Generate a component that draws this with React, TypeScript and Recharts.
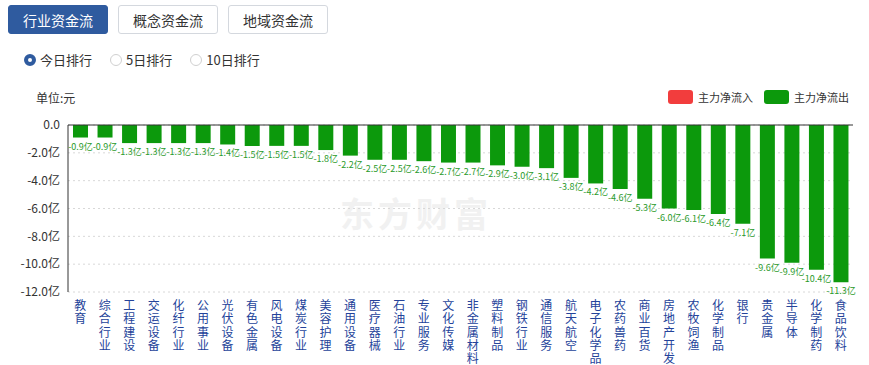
import { BarChart, Bar, XAxis, YAxis, CartesianGrid, ReferenceLine, LabelList } from 'recharts'

const categories = ['教育', '综合行业', '工程建设', '交运设备', '化纤行业', '公用事业', '光伏设备', '有色金属', '风电设备', '煤炭行业', '美容护理', '通用设备', '医疗器械', '石油行业', '专业服务', '文化传媒', '非金属材料', '塑料制品', '钢铁行业', '通信服务', '航天航空', '电子化学品', '农药兽药', '商业百货', '房地产开发', '农牧饲渔', '化学制品', '银行', '贵金属', '半导体', '化学制药', '食品饮料']
const netFlow = [-0.9, -0.9, -1.3, -1.3, -1.3, -1.3, -1.4, -1.5, -1.5, -1.5, -1.8, -2.2, -2.5, -2.5, -2.6, -2.7, -2.7, -2.9, -3.0, -3.1, -3.8, -4.2, -4.6, -5.3, -6.0, -6.1, -6.4, -7.1, -9.6, -9.9, -10.4, -11.3]
const yTicks = [0, -2, -4, -6, -8, -10, -12]
const tabs = ['行业资金流', '概念资金流', '地域资金流']
const ranks = ['今日排行', '5日排行', '10日排行']

const FONT = '"Noto Sans CJK SC", "Microsoft YaHei", sans-serif'
const GREEN = '#0c990c'
const RED = '#f23d3d'

const data = categories.map((name, i) => ({ name, value: netFlow[i] }))

function VerticalTick(props: any) {
  const { x, y, payload } = props
  const chars = String(payload.value).split('')
  return (
    <text x={x} y={y} textAnchor="middle" fontSize={12} fill="#24439a" fontFamily={FONT}>
      {chars.map((c, i) => (
        <tspan key={i} x={x} dy={i === 0 ? 10 : 13.3}>{c}</tspan>
      ))}
    </text>
  )
}

function BarValue(props: any) {
  const { x, y, width, height, value } = props
  const bottom = Math.max(y, y + height)
  return (
    <text x={x + width / 2} y={bottom + 12} textAnchor="middle" fontSize={9} fill="#2a9a2a" fontFamily={FONT}>
      {`${Number(value).toFixed(1)}亿`}
    </text>
  )
}

export default function App() {
  return (
    <div style={{ position: 'fixed', left: 0, top: 0, width: 869, height: 365, background: '#fff', fontFamily: FONT }}>
      <div style={{ position: 'absolute', left: 8, top: 5, display: 'flex', gap: 10 }}>
        {tabs.map((t, i) => (
          <div key={t} style={{
            width: i === 0 ? 100 : 100, height: 29, boxSizing: 'border-box', borderRadius: 3,
            border: i === 0 ? '1px solid #2f5b9f' : '1px solid #d4d8de',
            background: i === 0 ? '#2f5b9f' : '#fff', color: i === 0 ? '#fff' : '#333',
            fontSize: 14, display: 'flex', alignItems: 'center', justifyContent: 'center',
          }}>{t}</div>
        ))}
      </div>
      <div style={{ position: 'absolute', left: 24, top: 50, display: 'flex', gap: 18, fontSize: 13, color: '#333' }}>
        {ranks.map((r, i) => (
          <div key={r} style={{ display: 'flex', alignItems: 'center', gap: 4 }}>
            <div style={{
              width: 12, height: 12, boxSizing: 'border-box', borderRadius: '50%',
              border: i === 0 ? '4px solid #2f5b9f' : '1px solid #d0d0d0', background: '#fff',
            }} />
            {r}
          </div>
        ))}
      </div>
      <div style={{ position: 'absolute', left: 36, top: 89, fontSize: 12, color: '#333' }}>单位:元</div>
      <div style={{ position: 'absolute', left: 668, top: 89, display: 'flex', alignItems: 'center', fontSize: 11, color: '#333' }}>
        <div style={{ width: 25, height: 14, borderRadius: 3, background: RED, marginRight: 5 }} />
        <span style={{ marginRight: 11 }}>主力净流入</span>
        <div style={{ width: 25, height: 14, borderRadius: 3, background: GREEN, marginRight: 5 }} />
        <span>主力净流出</span>
      </div>
      <div style={{ position: 'absolute', left: 340, top: 188, fontSize: 34, fontWeight: 700, color: '#f1f1f1', letterSpacing: 4 }}>东方财富</div>
      <BarChart width={869} height={365} data={data} margin={{ top: 125, right: 16, bottom: 3, left: 8 }} style={{ position: 'absolute', left: 0, top: 0 }}>
        <CartesianGrid vertical={false} stroke="#d8d8d8" strokeDasharray="2 3" />
        <XAxis dataKey="name" interval={0} height={70} axisLine={false} tickLine={false} tick={<VerticalTick />} />
        <YAxis
          type="number" domain={[-12, 0]} ticks={yTicks} width={60} interval={0}
          axisLine={{ stroke: '#333' }} tickLine={false}
          tick={{ fontSize: 12, fill: '#333', fontFamily: FONT }}
          tickFormatter={(v: number) => (v === 0 ? '0.0' : `${v.toFixed(1)}亿`)}
        />
        <ReferenceLine y={0} stroke="#333" />
        <Bar dataKey="value" fill={GREEN} barSize={15} isAnimationActive={false}>
          <LabelList dataKey="value" content={<BarValue />} />
        </Bar>
      </BarChart>
    </div>
  )
}
